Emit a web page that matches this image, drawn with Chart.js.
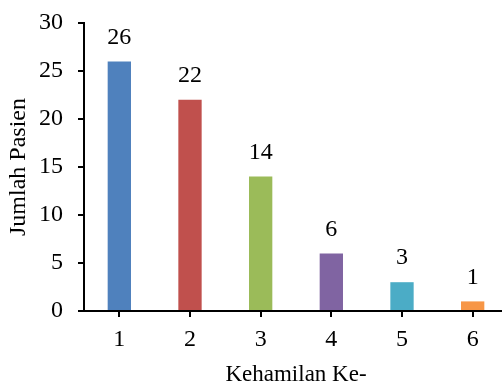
<!DOCTYPE html>
<html>
<head>
<meta charset="utf-8">
<script src="https://cdn.jsdelivr.net/npm/chart.js@4/dist/chart.umd.min.js"></script>
<style>
  html, body { margin: 0; padding: 0; background: #fff; }
  #wrap { width: 502px; height: 386px; }
</style>
</head>
<body>
<div id="wrap"><canvas id="c" width="502" height="386"></canvas></div>
<script>
// Pregnancy order (gravida) and number of patients
const categories = ['1', '2', '3', '4', '5', '6'];
const patients = [26, 22, 14, 6, 3, 1];
const barColors = ['#4F81BD', '#C0504D', '#9BBB59', '#8064A2', '#4BACC6', '#F79646'];
const yTicks = [0, 5, 10, 15, 20, 25, 30];

const FONT = '"Liberation Serif", "Times New Roman", serif';

// The category axis runs a little past the right edge of the canvas
const EXTEND_RIGHT = 6;
const extendPlot = {
  id: 'extendPlot',
  afterLayout(chart) {
    const x = chart.scales.x;
    x.right += EXTEND_RIGHT;
    x.width += EXTEND_RIGHT;
    x.configure();
    chart.chartArea.right += EXTEND_RIGHT;
    chart.chartArea.width += EXTEND_RIGHT;
  }
};

// Writes each bar's value above it
const valueLabels = {
  id: 'valueLabels',
  afterDatasetsDraw(chart) {
    const ctx = chart.ctx;
    ctx.save();
    ctx.font = '24px ' + FONT;
    ctx.fillStyle = '#000';
    ctx.textAlign = 'center';
    ctx.textBaseline = 'middle';
    chart.getDatasetMeta(0).data.forEach((bar, i) => {
      ctx.fillText(String(patients[i]), bar.x, bar.y - 24);
    });
    ctx.restore();
  }
};

new Chart(document.getElementById('c'), {
  type: 'bar',
  data: {
    labels: categories,
    datasets: [{
      data: patients,
      backgroundColor: barColors,
      borderWidth: 0,
      barPercentage: 0.33,
      categoryPercentage: 1
    }]
  },
  options: {
    responsive: false,
    animation: false,
    devicePixelRatio: 1,
    layout: { padding: { top: 23, right: 0, bottom: 0, left: 0 } },
    plugins: { legend: { display: false }, tooltip: { enabled: false } },
    scales: {
      x: {
        grid: { offset: false, drawOnChartArea: false, drawTicks: true, tickLength: 6, color: '#000', lineWidth: 2 },
        border: { display: true, color: '#000', width: 2 },
        ticks: { color: '#000', font: { family: FONT, size: 24 }, padding: 8, maxRotation: 0 },
        title: { display: true, text: 'Kehamilan Ke-', color: '#000', font: { family: FONT, size: 23, lineHeight: 1 }, padding: 0 },
        afterFit(scale) { scale.height = 75; scale.paddingLeft = 0; scale.paddingRight = 0; }
      },
      y: {
        min: 0,
        max: 30,
        afterBuildTicks(scale) { scale.ticks = yTicks.map(v => ({ value: v })); },
        grid: { drawOnChartArea: false, drawTicks: true, tickLength: 6, color: '#000', lineWidth: 2 },
        border: { display: true, color: '#000', width: 2 },
        ticks: { color: '#000', font: { family: FONT, size: 24 }, padding: 15 },
        title: { display: true, text: 'Jumlah Pasien', color: '#000', font: { family: FONT, size: 24, lineHeight: 1 }, padding: { top: 7, bottom: 0 } },
        afterFit(scale) { scale.width = 84; scale.paddingTop = 0; scale.paddingBottom = 0; }
      }
    }
  },
  plugins: [extendPlot, valueLabels]
});
</script>
</body>
</html>
